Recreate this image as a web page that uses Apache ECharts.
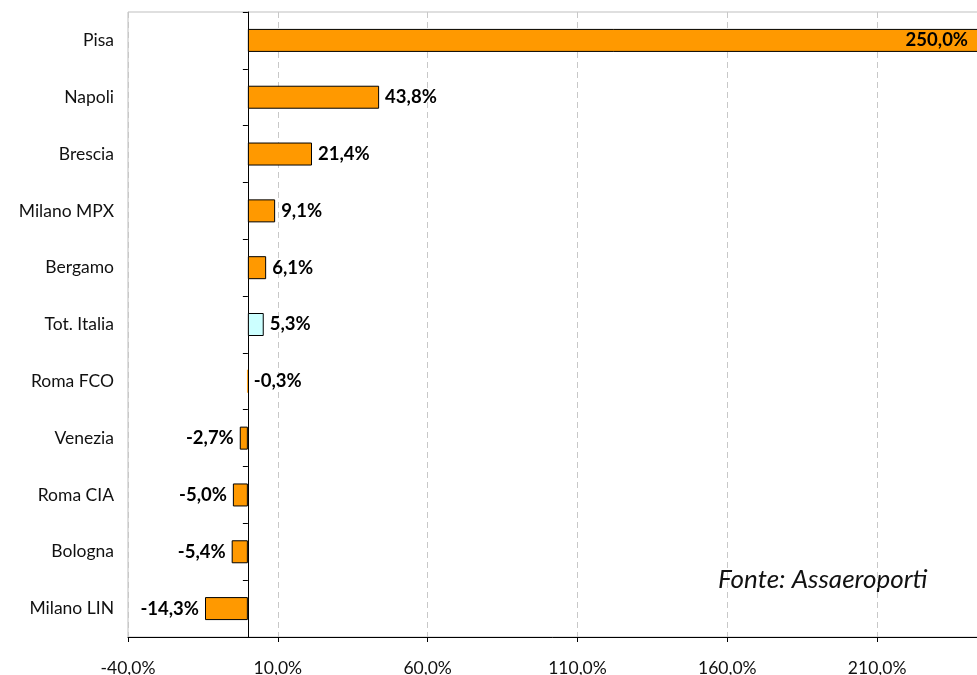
<!DOCTYPE html>
<html>
<head>
<meta charset="utf-8">
<script src="https://cdn.jsdelivr.net/npm/echarts@6/dist/echarts.min.js"></script>
<style>
html,body{margin:0;padding:0;background:#fff;}
#chart{width:977px;height:675px;}
</style>
</head>
<body>
<div id="chart"></div>
<script>
const categories = ['Pisa','Napoli','Brescia','Milano MPX','Bergamo','Tot. Italia','Roma FCO','Venezia','Roma CIA','Bologna','Milano LIN'];
const values = [250.0, 43.8, 21.4, 9.1, 6.1, 5.3, -0.3, -2.7, -5.0, -5.4, -14.3];
const highlight = 'Tot. Italia';
const sourceNote = 'Fonte: Assaeroporti';

const FONT = 'Lato';
const fmt = v => v.toFixed(1).replace('.', ',') + '%';

const data = values.map((v, i) => {
  const item = { value: v };
  if (categories[i] === highlight) item.itemStyle = { color: '#CCFFFF' };
  if (v > 200) {
    item.label = { position: 'insideRight', offset: [-24, 0] };
  } else if (v < -1) {
    item.label = { position: 'left', distance: 6 };
  } else {
    item.label = { position: 'right', distance: 6 };
  }
  if (Math.abs(v) < 1) item.itemStyle = { borderWidth: 0 };
  return item;
});

const chart = echarts.init(document.getElementById('chart'), null, { renderer: 'canvas' });
chart.setOption({
  animation: false,
  backgroundColor: '#fff',
  grid: { left: 128, top: 12, width: 899, height: 625, show: true, borderColor: '#BFBFBF', borderWidth: 1, containLabel: false, outerBoundsMode: 'none' },
  xAxis: {
    type: 'value', min: -40, max: 260, interval: 50,
    axisLine: { show: true, onZero: false, lineStyle: { color: '#000', width: 1 } },
    axisTick: { show: true, length: 5, lineStyle: { color: '#000' } },
    splitLine: { show: true, lineStyle: { color: '#C8C8C8', type: [6, 4], width: 1 } },
    axisLabel: { formatter: fmt, fontFamily: FONT, fontSize: 17.5, color: '#111', margin: 22 }
  },
  yAxis: [
    {
      type: 'category', data: categories, inverse: true,
      axisLine: { show: false, onZero: false },
      axisTick: { show: false },
      axisLabel: { fontFamily: FONT, fontSize: 17.5, color: '#111', margin: 14 }
    },
    {
      type: 'category', data: categories, inverse: true, position: 'left',
      axisLine: { show: true, onZero: true, lineStyle: { color: '#000', width: 1 } },
      axisTick: { show: true, length: 5, inside: false, lineStyle: { color: '#000' } },
      axisLabel: { show: false },
      splitLine: { show: false }
    }
  ],
  series: [{
    type: 'bar', yAxisIndex: 0, data: data, barWidth: 23,
    itemStyle: { color: '#FF9900', borderColor: '#000', borderWidth: 1 },
    label: { show: true, formatter: p => fmt(p.value), fontFamily: FONT, fontWeight: 'bold', fontSize: 18.5, color: '#000' }
  }],
  graphic: [{
    type: 'text', left: 718, top: 567,
    style: { text: sourceNote, fontFamily: FONT, fontStyle: 'italic', fontSize: 26, fill: '#111' }
  }]
});
</script>
</body>
</html>
